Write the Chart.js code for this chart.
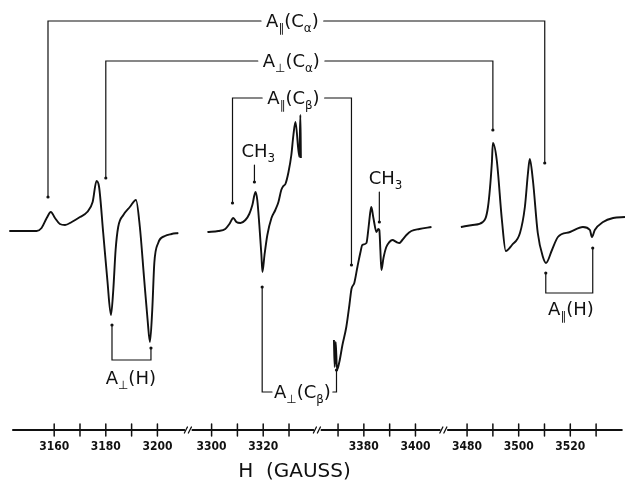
<!DOCTYPE html>
<html>
<head>
<meta charset="utf-8">
<script src="https://cdn.jsdelivr.net/npm/chart.js@4.4.0/dist/chart.umd.min.js"></script>
<style>
  html, body { margin: 0; background: #fff; }
</style>
</head>
<body>
<canvas id="esr" width="625" height="481"></canvas>
<script>
// --- DATA ---
// broken field axis: pieces of the H axis that are shown (gauss)
const axisPieces = [[3144, 3212], [3291, 3341], [3362, 3411], [3471, 3540]];
const fieldRange = [3139, 3541.2];
const labeledTicks = [3160, 3180, 3200, 3300, 3320, 3380, 3400, 3480, 3500, 3520];
const allTicks = [3160, 3170, 3180, 3190, 3200, 3300, 3310, 3320, 3330,
  3370, 3380, 3390, 3400, 3480, 3490, 3500, 3510, 3520, 3530];

// recorder traces (field in gauss, derivative signal in arbitrary units)
const lowField = [3142.6, 3153.2, 3155.1, 3157.1, 3158.7, 3160.3, 3162.2, 3164.2, 3166.8, 3170.0,
  3172.8, 3174.9, 3176.4, 3177.4, 3179.0, 3180.6, 3182.0, 3182.9, 3183.8, 3184.8,
  3186.8, 3189.3, 3191.7, 3193.2, 3194.8, 3196.2, 3197.1, 3198.0, 3198.8, 3200.3,
  3202.9, 3205.5, 3208.1];
const lowSignal = [1, 1, 4, 14, 20, 14, 8, 7, 10, 15,
  20, 30, 51, 45, -1, -48, -83, -58, -18, 5,
  17, 25, 32, 5, -45, -88, -110, -78, -31, -11,
  -4, -2, -1];

const midField = [3298.4, 3302.6, 3305.3, 3306.9, 3308.4, 3309.6, 3311.2, 3313.1, 3314.6, 3315.8,
  3317.0, 3317.7, 3318.5, 3319.3, 3319.7, 3320.5, 3321.6, 3323.2, 3324.7, 3325.9,
  3327.0, 3327.8, 3328.6, 3329.8, 3330.9, 3331.7, 3332.5, 3334.0, 3334.4, 3334.6,
  3350.0,
  3368.4, 3368.7, 3369.1, 3369.6, 3370.5, 3371.7, 3373.2, 3374.4, 3375.2, 3376.3,
  3377.5, 3378.7, 3379.4, 3381.0, 3381.8, 3382.5, 3382.9, 3383.7, 3384.9, 3385.6,
  3386.0, 3386.4, 3386.8, 3387.6, 3388.7, 3389.9, 3391.1, 3392.6, 3393.8, 3394.9,
  3396.5, 3398.4, 3401.5, 3406.2];
const midSignal = [0, 1, 3, 8, 14, 10, 9, 12, 18, 27,
  40, 32, 7, -23, -40, -23, -3, 14, 22, 30,
  42, 46, 48, 60, 77, 97, 110, 75, 117, 74,
  null,
  -108, -135, -110, -138, -130, -113, -95, -73, -57, -51,
  -35, -20, -13, -11, 4, 20, 25, 14, 0, 3,
  2, -18, -38, -26, -15, -10, -8, -10, -11, -8,
  -3, 1, 3, 5];

const highField = [3477.6, 3482.2, 3486.1, 3488.1, 3489.6, 3490.0, 3491.5, 3493.5, 3495.0, 3497.4,
  3500.5, 3502.4, 3503.6, 3504.3, 3505.5, 3507.4, 3509.4, 3510.6, 3512.9, 3515.2,
  3519.9, 3524.9, 3527.6, 3528.4, 3529.5, 3532.7, 3536.6, 3541.2];
const highSignal = [5, 7, 10, 25, 69, 89, 72, 12, -19, -13,
  -1, 25, 59, 73, 52, -1, -25, -31, -18, -5,
  0, 5, 2, -5, 2, 10, 14, 15];

// hyperfine brackets (field where they point, signal where the arrows end)
const A_PAR = ['A', 0, '\u2225', 1];
const A_PERP = ['A', 0, '\u22A5', 1];
const C_ALPHA = ['(C', 0, '\u03B1', 1, ')', 0];
const C_BETA = ['(C', 0, '\u03B2', 1, ')', 0];
const H_ = ['(H)', 0];

const overBrackets = [
  { text: [...A_PAR, ...C_ALPHA], left: 3157.6, right: 3510.1, bar: 211, leftEnd: 35, rightEnd: 69, labelAt: 3331.3 },
  { text: [...A_PERP, ...C_ALPHA], left: 3180.0, right: 3490.0, bar: 171, leftEnd: 54, rightEnd: 102, labelAt: 3330.9 },
  { text: [...A_PAR, ...C_BETA], left: 3308.1, right: 3375.2, bar: 134, leftEnd: 29, rightEnd: -33, labelAt: 3331.7 },
];
const underBrackets = [
  { text: [...A_PERP, ...C_BETA], left: 3319.6, right: 3369.4, bar: -160, leftEnd: -55, rightEnd: -138, labelAt: 3335.2, inline: true },
  { text: [...A_PERP, ...H_], left: 3182.4, right: 3197.5, bar: -128, leftEnd: -93, rightEnd: -116, labelAt: 3189.7, labelY: -146 },
  { text: [...A_PAR, ...H_], left: 3510.5, right: 3528.7, bar: -61, leftEnd: -41, rightEnd: -16, labelAt: 3520.2, labelY: -77 },
];
const methylMarks = [
  { at: 3316.6, from: 67, to: 50, labelAt: 3318.1, labelY: 81 },
  { at: 3386.0, from: 40, to: 10, labelAt: 3388.4, labelY: 54 },
];

const ink = "#111";
const letterFont = '"DejaVu Sans", sans-serif';

// field (gauss) -> position along the broken axis
function fieldToPos(g) {
  let off = 0;
  for (let i = 0; i < axisPieces.length; i++) {
    const [a, b] = axisPieces[i];
    const last = i === axisPieces.length - 1;
    if (g <= b || last) return off + (g - a);
    const next = axisPieces[i + 1][0];
    if (g < next) return g - b < next - g ? off + (g - a) : off + (b - a) + (g - next);
    off += b - a;
  }
}

const toPoints = (fields, signals) =>
  fields.map((g, i) => ({ x: fieldToPos(g), y: signals[i] }));

// --- rich text with subscripts ---
const SUB = 0.66;
function richWidth(ctx, parts, size) {
  let w = 0;
  for (let i = 0; i < parts.length; i += 2) {
    ctx.font = `${parts[i + 1] ? size * SUB : size}px ${letterFont}`;
    w += ctx.measureText(parts[i]).width;
  }
  return w;
}
function drawRich(ctx, parts, cx, cy, size) {
  const w = richWidth(ctx, parts, size);
  let xx = cx - w / 2;
  const base = cy + size * 0.36;
  ctx.textBaseline = "alphabetic";
  ctx.textAlign = "left";
  for (let i = 0; i < parts.length; i += 2) {
    const sub = parts[i + 1];
    ctx.font = `${sub ? size * SUB : size}px ${letterFont}`;
    ctx.fillText(parts[i], xx, sub ? base + size * 0.24 : base);
    xx += ctx.measureText(parts[i]).width;
  }
  return w;
}

// --- axis + annotations plugin ---
const annotate = {
  id: "annotate",
  afterDatasetsDraw(chart) {
    const { ctx, chartArea, scales: { x, y } } = chart;
    const px = (g) => x.getPixelForValue(fieldToPos(g));
    const py = (s) => y.getPixelForValue(s);
    const line = (pts) => {
      ctx.beginPath();
      ctx.moveTo(pts[0][0], pts[0][1]);
      pts.slice(1).forEach((p) => ctx.lineTo(p[0], p[1]));
      ctx.stroke();
    };
    const dot = (xx, yy) => {
      ctx.beginPath();
      ctx.arc(xx, yy, 1.6, 0, Math.PI * 2);
      ctx.fill();
    };
    ctx.save();
    ctx.strokeStyle = ink;
    ctx.fillStyle = ink;
    ctx.lineCap = "round";

    // field axis with breaks
    const ya = chartArea.bottom;
    ctx.lineWidth = 1.8;
    axisPieces.forEach(([a, b], i) => {
      const last = i === axisPieces.length - 1;
      const x0 = px(a) + (i ? 4 : 0);
      const x1 = px(b) - (last ? 0 : 4);
      line([[x0, ya], [x1, ya]]);
      if (!last) {
        const xb = px(b);
        ctx.lineWidth = 1.3;
        line([[xb - 4, ya + 3], [xb - 1, ya - 3]]);
        line([[xb, ya + 3], [xb + 3, ya - 3]]);
        ctx.lineWidth = 1.8;
      }
    });
    ctx.lineWidth = 1.5;
    allTicks.forEach((g) => line([[px(g), ya - 6], [px(g), ya + 6]]));

    ctx.font = `20px ${letterFont}`;
    ctx.textAlign = "center";
    ctx.textBaseline = "middle";
    ctx.fillText("H  (GAUSS)", px(3332.1), ya + 42);

    // brackets above the traces
    const size = 18;
    ctx.lineWidth = 1.2;
    overBrackets.forEach((b) => {
      const xl = px(b.left), xr = px(b.right), yb = py(b.bar), xc = px(b.labelAt);
      const w = drawRich(ctx, b.text, xc, yb, size);
      line([[xl, py(b.leftEnd)], [xl, yb], [xc - w / 2 - 5, yb]]);
      line([[xc + w / 2 + 5, yb], [xr, yb], [xr, py(b.rightEnd)]]);
      dot(xl, py(b.leftEnd));
      dot(xr, py(b.rightEnd));
    });

    // brackets below the traces
    underBrackets.forEach((b) => {
      const xl = px(b.left), xr = px(b.right), yb = py(b.bar), xc = px(b.labelAt);
      if (b.inline) {
        const w = drawRich(ctx, b.text, xc, yb, size);
        line([[xl, py(b.leftEnd)], [xl, yb], [xc - w / 2 - 2, yb]]);
        line([[xc + w / 2 + 2, yb], [xr, yb], [xr, py(b.rightEnd)]]);
      } else {
        drawRich(ctx, b.text, xc, py(b.labelY), size);
        line([[xl, py(b.leftEnd)], [xl, yb], [xr, yb], [xr, py(b.rightEnd)]]);
      }
      dot(xl, py(b.leftEnd));
      dot(xr, py(b.rightEnd));
    });

    // methyl lines
    methylMarks.forEach((m) => {
      drawRich(ctx, ["CH", 0, "3", 1], px(m.labelAt), py(m.labelY), size);
      line([[px(m.at), py(m.from)], [px(m.at), py(m.to)]]);
      dot(px(m.at), py(m.to));
    });
    ctx.restore();
  },
};

const traceStyle = {
  borderColor: ink,
  borderWidth: 1.9,
  pointRadius: 0,
  cubicInterpolationMode: "monotone",
  spanGaps: false,
  fill: false,
};

new Chart(document.getElementById("esr"), {
  type: "line",
  data: {
    datasets: [
      { label: "low field", data: toPoints(lowField, lowSignal), ...traceStyle },
      { label: "centre", data: toPoints(midField, midSignal), ...traceStyle },
      { label: "high field", data: toPoints(highField, highSignal), ...traceStyle },
    ],
  },
  options: {
    responsive: false,
    animation: false,
    layout: { padding: 0 },
    plugins: { legend: { display: false }, tooltip: { enabled: false } },
    scales: {
      x: {
        type: "linear",
        min: fieldToPos(fieldRange[0]),
        max: fieldToPos(fieldRange[1]),
        grid: { display: false },
        border: { display: false },
        afterBuildTicks: (s) => {
          s.ticks = labeledTicks.map((g) => ({ value: fieldToPos(g) }));
        },
        afterFit: (s) => { s.height = 51; },
        ticks: {
          autoSkip: false,
          maxRotation: 0,
          padding: 2,
          color: ink,
          font: { family: '"DejaVu Sans Condensed", "DejaVu Sans", sans-serif', size: 12, weight: "bold" },
          callback: (v, i) => String(labeledTicks[i]),
        },
      },
      y: { display: false, min: -198, max: 232 },
    },
  },
  plugins: [annotate],
});
</script>
</body>
</html>
